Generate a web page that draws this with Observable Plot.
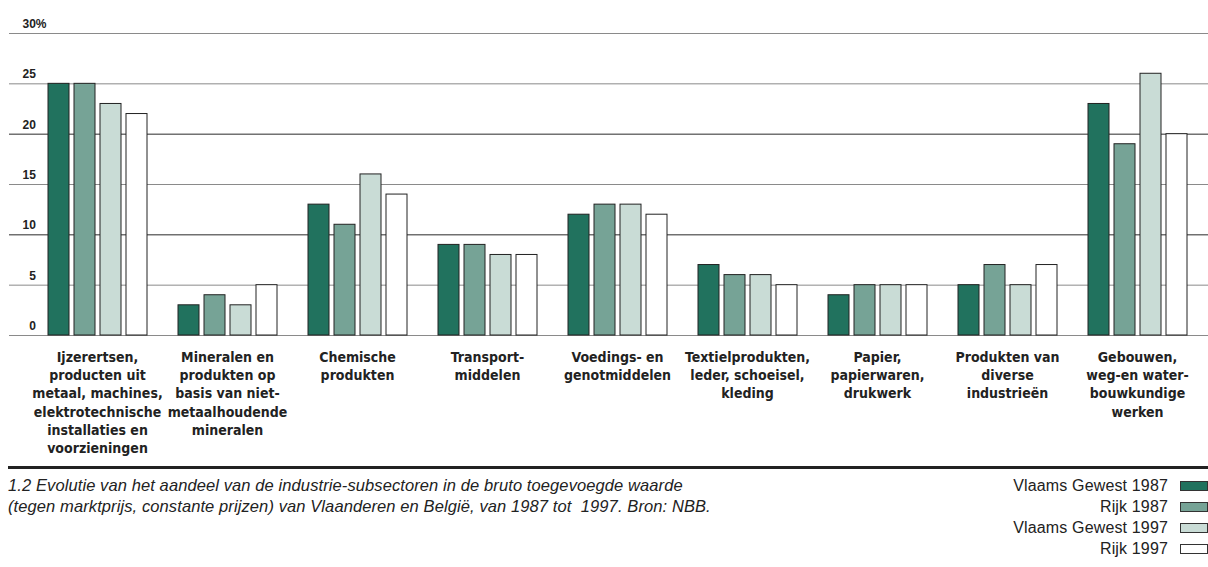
<!DOCTYPE html>
<html><head><meta charset="utf-8">
<script src="https://cdn.jsdelivr.net/npm/d3@7"></script>
<script src="https://cdn.jsdelivr.net/npm/@observablehq/plot@0.6"></script>
<style>
body{margin:0;background:#fff;font-family:"Liberation Sans",Arial,sans-serif;color:#222;width:1208px;overflow:hidden}
#chart svg{display:block;overflow:visible}
.rule{margin:4px 0 0 8px;border-top:3px solid #222;}
.foot{display:flex;justify-content:space-between;padding-top:6px}
.caption{margin-left:8px;font-style:italic;font-size:16.5px;letter-spacing:0.1px;line-height:21px}
.legend{font-size:16px;letter-spacing:0.15px;line-height:21px}
.legend div{display:flex;justify-content:flex-end;align-items:center}
.sw{display:inline-block;width:26px;height:8px;border:1px solid #333;margin-left:12px}
</style></head><body>
<div id="chart"></div>
<div class="rule"></div>
<div class="foot">
  <div class="caption">1.2 Evolutie van het aandeel van de industrie-subsectoren in de bruto toegevoegde waarde<br>(tegen marktprijs, constante prijzen) van Vlaanderen en België, van 1987 tot &nbsp;1997. Bron: NBB.</div>
  <div class="legend" id="legend"></div>
</div>
<script>
const categories = [
  "Ijzerertsen,\nproducten uit\nmetaal, machines,\nelektrotechnische\ninstallaties en\nvoorzieningen",
  "Mineralen en\nprodukten op\nbasis van niet-\nmetaalhoudende\nmineralen",
  "Chemische\nprodukten",
  "Transport-\nmiddelen",
  "Voedings- en\ngenotmiddelen",
  "Textielprodukten,\nleder, schoeisel,\nkleding",
  "Papier,\npapierwaren,\ndrukwerk",
  "Produkten van\ndiverse\nindustrieën",
  "Gebouwen,\nweg-en water-\nbouwkundige\nwerken"
];
const series = ["Vlaams Gewest 1987", "Rijk 1987", "Vlaams Gewest 1997", "Rijk 1997"];
const colors = ["#21725e", "#76a396", "#c9dcd6", "#ffffff"];
const vlaams1987 = [25, 3, 13, 9, 12, 7, 4, 5, 23];
const rijk1987   = [25, 4, 11, 9, 13, 6, 5, 7, 19];
const vlaams1997 = [23, 3, 16, 8, 13, 6, 5, 5, 26];
const rijk1997   = [22, 5, 14, 8, 12, 5, 5, 7, 20];
const yTicks = [0, 5, 10, 15, 20, 25, 30];
const majorTicks = [10, 20];

const seriesValues = [vlaams1987, rijk1987, vlaams1997, rijk1997];
const rows = categories.flatMap((c, i) => seriesValues.map((arr, j) => ({category: c, series: series[j], value: arr[i]})));
const narrow = "'Liberation Sans Narrow','Arial Narrow','DejaVu Sans Condensed',sans-serif";
const fmt = d => d === 30 ? "30%" : (d < 10 ? "\u2007" + d : String(d));
const first = () => categories[0];

const chart = Plot.plot({
  width: 1208, height: 462,
  marginTop: 33, marginBottom: 127, marginLeft: 31, marginRight: 6,
  fx: {domain: categories, padding: 0, axis: null},
  x: {domain: series, paddingInner: 0.21, paddingOuter: 0.6, axis: null},
  y: {domain: [0, 30], axis: null},
  color: {domain: series, range: colors},
  style: {fontFamily: "'Liberation Sans',Arial,sans-serif", color: "#222", background: "#fff", overflow: "visible"},
  marks: [
    Plot.ruleY(yTicks.filter(d => !majorTicks.includes(d)), {fx: first, stroke: "#8a8a8a", strokeWidth: 1, insetLeft: -23, insetRight: -1047}),
    Plot.ruleY(majorTicks, {fx: first, stroke: "#2a2a2a", strokeWidth: 1, insetLeft: -23, insetRight: -1047}),
    Plot.text(yTicks, {fx: first, y: d => d, text: fmt, frameAnchor: "left", textAnchor: "start", dx: -10, dy: -9.5, fontWeight: "bold", fontSize: 12, fill: "#222"}),
    Plot.barY(rows, {fx: "category", x: "series", y: "value", fill: "series", stroke: "#222", strokeWidth: 1}),
    Plot.text(categories, {fx: d => d, text: d => d, frameAnchor: "bottom", lineAnchor: "top", dy: 13, fontWeight: "bold", fontSize: 14, lineHeight: 1.31, fontFamily: narrow, fill: "#222"})
  ]
});
document.getElementById("chart").appendChild(chart);

const legend = document.getElementById("legend");
series.forEach((s, i) => {
  const row = document.createElement("div");
  row.innerHTML = `<span>${s}</span><span class="sw" style="background:${colors[i]}"></span>`;
  legend.appendChild(row);
});
</script>
</body></html>
